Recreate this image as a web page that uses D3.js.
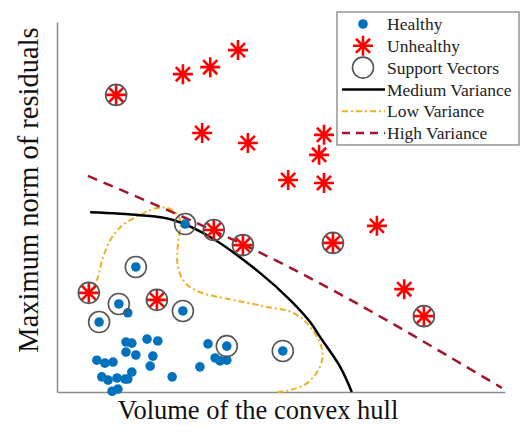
<!DOCTYPE html>
<html>
<head>
<meta charset="utf-8">
<script src="https://cdn.jsdelivr.net/npm/d3@7"></script>
<style>
  body { margin: 0; background: #fff; }
  svg { display: block; }
</style>
</head>
<body>
<div id="main"></div>
<script>
const cte = {
    w: 525,
    h: 443,
    font: "'Liberation Serif', 'Times New Roman', serif"
};
const margin = { top: 22, right: 20, bottom: 51, left: 57 };

// healthy samples [volume, max norm]
const healthy = [
    [2.86, 4.54], [1.76, 3.38], [1.38, 2.38], [0.94, 1.89], [2.81, 2.19], [3.79, 1.24], [5.04, 1.11],
    [1.58, 2.14], [1.54, 1.35], [1.67, 1.32], [2.01, 1.43], [2.25, 1.38], [1.54, 1.08], [1.76, 1.00],
    [2.14, 0.97], [2.08, 0.70], [0.89, 0.86], [1.07, 0.78], [1.25, 0.81], [1.00, 0.41], [1.14, 0.32],
    [1.34, 0.38], [1.52, 0.35], [1.67, 0.54], [1.58, 0.35], [1.23, 0.02], [1.36, 0.08], [2.57, 0.41],
    [3.37, 1.30], [3.19, 0.68], [3.53, 0.92], [3.64, 0.84], [3.79, 0.86]
];
const unhealthy = [
    [1.32, 8.03], [2.81, 8.59], [3.42, 8.78], [4.04, 9.24], [3.24, 7.00], [4.26, 6.73],
    [5.96, 6.95], [5.85, 6.41], [5.16, 5.73], [5.96, 5.65], [7.14, 4.49], [6.16, 4.03],
    [3.50, 4.38], [4.15, 3.97], [7.75, 2.78], [8.19, 2.05], [0.71, 2.68], [2.23, 2.49]
];
const supportVectors = [
    [2.86, 4.54], [1.76, 3.38], [1.38, 2.38], [0.94, 1.89], [2.81, 2.19], [3.79, 1.24], [5.04, 1.11],
    [1.32, 8.03], [0.71, 2.68], [2.23, 2.49], [3.50, 4.38], [4.15, 3.97], [6.16, 4.03], [8.19, 2.05]
];

// decision boundaries
const mediumVar = [
    [0.74, 4.86], [1.85, 4.78], [2.59, 4.65], [3.42, 4.19], [4.53, 3.22], [5.20, 2.49],
    [5.65, 1.89], [5.87, 1.49], [6.32, 0.68], [6.58, 0.00]
];
const lowVar = [
    [0.71, 2.68], [0.89, 3.03], [1.03, 3.65], [1.23, 4.19], [1.47, 4.51], [1.85, 4.78],
    [2.23, 4.97], [2.52, 4.95], [2.75, 4.65], [2.70, 4.03], [2.70, 3.38], [2.86, 2.95],
    [3.19, 2.70], [3.93, 2.49], [4.69, 2.30], [5.27, 2.14], [5.65, 1.76], [5.92, 1.14],
    [5.87, 0.68], [5.58, 0.24], [5.20, 0.05], [4.93, 0.00]
];
const highVar = [[0.69, 5.84], [5.22, 3.35], [9.93, 0.11]];

const legendItems = ["Healthy", "Unhealthy", "Support Vectors", "Medium Variance", "Low Variance", "High Variance"];

const colors = {
    healthy: "#0072BD",
    unhealthy: "#FF0000",
    sv: "#555555",
    medium: "#000000",
    low: "#EDB120",
    high: "#A2142F",
    axis: "#8c8c8c"
};

const width = cte.w - margin.left - margin.right;
const height = cte.h - margin.top - margin.bottom;

const xScale = d3.scaleLinear().domain([0, 10]).range([0, width]);
const yScale = d3.scaleLinear().domain([0, 10]).range([height, 0]);

// 8-armed asterisk like matlab '*'
function asteriskPath(r) {
    let p = "";
    for (let i = 0; i < 4; i++) {
        const a = i * Math.PI / 4;
        const dx = r * Math.cos(a), dy = r * Math.sin(a);
        p += `M${-dx},${-dy}L${dx},${dy}`;
    }
    return p;
}

const svg = d3.select("#main").append("svg")
    .attr("width", cte.w)
    .attr("height", cte.h);

const g = svg.append("g")
    .attr("transform", `translate(${margin.left}, ${margin.top})`);

// axes, no ticks
g.append("g")
    .attr("transform", `translate(0, ${height})`)
    .call(d3.axisBottom(xScale).ticks(0).tickSize(0).tickSizeOuter(0))
    .call(a => a.select(".domain").attr("stroke", colors.axis).attr("stroke-width", 1.5));
g.append("g")
    .call(d3.axisLeft(yScale).ticks(0).tickSize(0).tickSizeOuter(0))
    .call(a => a.select(".domain").attr("stroke", colors.axis).attr("stroke-width", 1.5));

const line = d3.line()
    .x(d => xScale(d[0]))
    .y(d => yScale(d[1]));

g.append("path")
    .datum(lowVar)
    .attr("d", line.curve(d3.curveCatmullRom.alpha(0.5)))
    .attr("fill", "none")
    .attr("stroke", colors.low)
    .attr("stroke-width", 2)
    .attr("stroke-dasharray", "6,3,2,3");

g.append("path")
    .datum(mediumVar)
    .attr("d", line.curve(d3.curveCatmullRom.alpha(0.5)))
    .attr("fill", "none")
    .attr("stroke", colors.medium)
    .attr("stroke-width", 2.5);

g.append("path")
    .datum(highVar)
    .attr("d", line.curve(d3.curveNatural))
    .attr("fill", "none")
    .attr("stroke", colors.high)
    .attr("stroke-width", 2.5)
    .attr("stroke-dasharray", "10,7");

g.selectAll(".healthy")
    .data(healthy)
    .enter().append("circle")
    .attr("class", "healthy")
    .attr("cx", d => xScale(d[0]))
    .attr("cy", d => yScale(d[1]))
    .attr("r", 4.8)
    .attr("fill", colors.healthy);

g.selectAll(".unhealthy")
    .data(unhealthy)
    .enter().append("path")
    .attr("class", "unhealthy")
    .attr("transform", d => `translate(${xScale(d[0])}, ${yScale(d[1])})`)
    .attr("d", asteriskPath(10))
    .attr("stroke", colors.unhealthy)
    .attr("stroke-width", 2.6)
    .attr("fill", "none");

g.selectAll(".sv")
    .data(supportVectors)
    .enter().append("circle")
    .attr("class", "sv")
    .attr("cx", d => xScale(d[0]))
    .attr("cy", d => yScale(d[1]))
    .attr("r", 10.5)
    .attr("fill", "none")
    .attr("stroke", colors.sv)
    .attr("stroke-width", 1.6);

// Legend
const lg = svg.append("g").attr("transform", "translate(337, 12)");
lg.append("rect")
    .attr("width", 182)
    .attr("height", 133)
    .attr("fill", "#fff")
    .attr("stroke", "#777")
    .attr("stroke-width", 1.2);

const rowY = i => 12 + i * 21.8;
legendItems.forEach((name, i) => {
    const y = rowY(i);
    if (i === 0) {
        lg.append("circle").attr("cx", 26).attr("cy", y).attr("r", 4.8).attr("fill", colors.healthy);
    } else if (i === 1) {
        lg.append("path").attr("transform", `translate(26, ${y})`).attr("d", asteriskPath(10))
            .attr("stroke", colors.unhealthy).attr("stroke-width", 2.6).attr("fill", "none");
    } else if (i === 2) {
        lg.append("circle").attr("cx", 26).attr("cy", y).attr("r", 10.5)
            .attr("fill", "none").attr("stroke", colors.sv).attr("stroke-width", 1.6);
    } else {
        const style = [
            { c: colors.medium, d: null, w: 2.5 },
            { c: colors.low, d: "6,3,2,3", w: 2 },
            { c: colors.high, d: "8,6", w: 2.5 }
        ][i - 3];
        lg.append("line").attr("x1", 5).attr("x2", 48).attr("y1", y).attr("y2", y)
            .attr("stroke", style.c).attr("stroke-width", style.w)
            .attr("stroke-dasharray", style.d);
    }
    lg.append("text")
        .attr("x", 50)
        .attr("y", y)
        .attr("dy", "0.35em")
        .style("font-family", cte.font)
        .style("font-size", "17.5px")
        .style("fill", "#222")
        .text(name);
});

// axis titles
svg.append("text")
    .attr("x", margin.left + width / 2 - 23)
    .attr("y", 419)
    .attr("text-anchor", "middle")
    .style("font-family", cte.font)
    .style("font-size", "26.5px")
    .style("fill", "#111")
    .text("Volume of the convex hull");

svg.append("text")
    .attr("transform", "rotate(-90)")
    .attr("x", -190)
    .attr("y", 38)
    .attr("text-anchor", "middle")
    .style("font-family", cte.font)
    .style("font-size", "28.5px")
    .style("fill", "#111")
    .text("Maximum norm of residuals");
</script>
</body>
</html>
